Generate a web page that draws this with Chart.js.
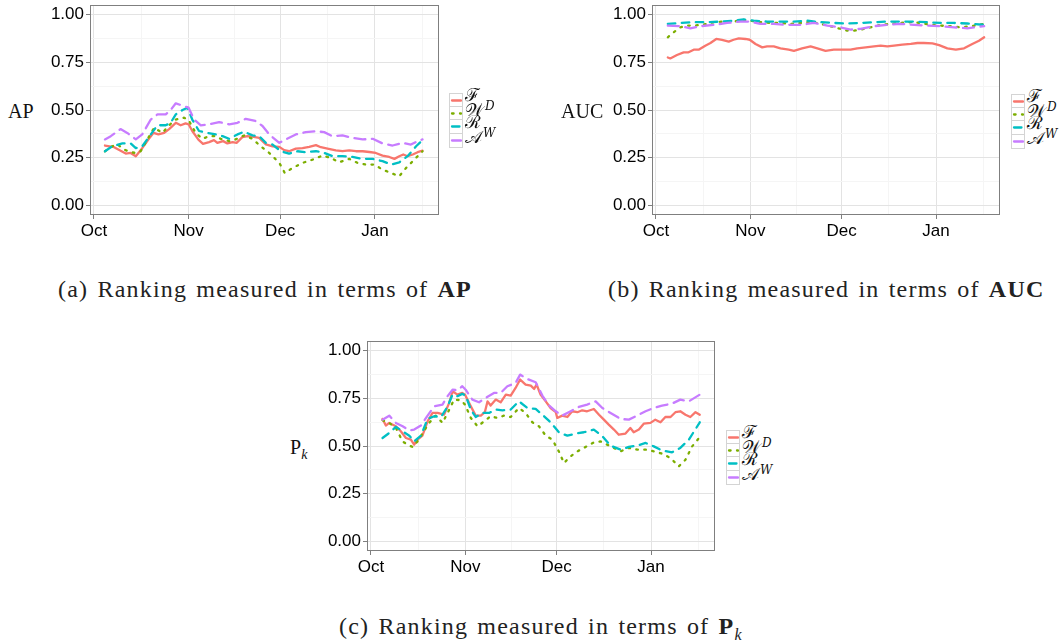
<!DOCTYPE html>
<html>
<head>
<meta charset="utf-8">
<script src="https://cdn.jsdelivr.net/npm/chart.js@4.4.1/dist/chart.umd.min.js"></script>
<style>
  body { margin: 0; background: #fff; width: 1062px; height: 644px; position: relative; overflow: hidden; }
  canvas.panel { position: absolute; }
  .ylab { position: absolute; font-family: "Liberation Serif", serif; font-size: 20px; color: #111; line-height: 1; }
  .caption { position: absolute; font-family: "Liberation Serif", serif; font-size: 24px; color: #222; white-space: nowrap; line-height: 1; letter-spacing: 1.2px; word-spacing: 2px; }
  .legend { position: absolute; }
  .legend .row { position: relative; height: 13.7px; }
  .legend .key { position: absolute; left: 0; top: 0; width: 12px; height: 12.7px; border: 1px solid #d4d4d4; border-top-width: 0; background: #fff; }
  .legend .row:first-child .key { border-top-width: 1px; height: 11.7px; }
  .legend .key svg { position: absolute; left: 0; top: 0; }
  .legend .lab { position: absolute; left: 16px; top: -7px; font-family: "DejaVu Serif", serif; font-size: 18px; color: #111; white-space: nowrap; line-height: 1; }
  .legend .lab sup { font-size: 12px; font-style: italic; vertical-align: 6px; margin-left: 1px; }
</style>
</head>
<body>
<canvas class="panel" id="chartAP" width="402" height="240" style="left:40px;top:0px"></canvas>
<canvas class="panel" id="chartAUC" width="401" height="240" style="left:602px;top:0px"></canvas>
<canvas class="panel" id="chartPk" width="401" height="240" style="left:317px;top:336px"></canvas>

<div class="ylab" style="left:8px;top:101px">AP</div>
<div class="ylab" style="left:561px;top:101px">AUC</div>
<div class="ylab" style="left:290px;top:437px">P<sub style="font-size:14px;font-style:italic">k</sub></div>

<div class="legend" id="legAP" style="left:449px;top:93px"></div>
<div class="legend" id="legAUC" style="left:1011px;top:94px"></div>
<div class="legend" id="legPk" style="left:726px;top:430px"></div>

<div class="caption" style="left:58px;top:277px">(a) Ranking measured in terms of <b>AP</b></div>
<div class="caption" style="left:608px;top:277px">(b) Ranking measured in terms of <b>AUC</b></div>
<div class="caption" style="left:339px;top:614px">(c) Ranking measured in terms of <b>P</b><sub style="font-size:16px;font-style:italic">k</sub></div>

<script>
// x values are days counted from 1 October
const monthTicks = [0, 31, 61, 92];
const monthLabels = ['Oct', 'Nov', 'Dec', 'Jan'];
const monthMinor = [15.5, 46, 76.5, 107.5];
const valueTicks = [0, 0.25, 0.5, 0.75, 1];
const valueMinor = [0.125, 0.375, 0.625, 0.875];

const seriesNames = ['ℱ', '𝒲', 'ℛ', '𝒜'];
const seriesSups = ['', 'D', '', 'W'];
const seriesColors = ['#F8766D', '#7CAE00', '#00BFC4', '#C77CFF'];
const seriesDash = [[], [1.6, 6.4], [7.5, 6.5], [11, 6.5]];

// (a) AP
const apF = [[3.6,.314],[6.6,.305],[10.4,.272],[12,.275],[13.7,.258],[15.8,.30],[17.8,.345],[19.5,.38],[21.1,.372],[23,.38],[24.6,.40],[26.8,.433],[28.4,.42],[30,.43],[31,.425],[32.2,.39],[34.2,.345],[35.7,.323],[37.7,.332],[39.3,.342],[40.4,.328],[42.3,.337],[43.7,.325],[45.4,.332],[46.7,.328],[48.6,.358],[50.3,.363],[51.9,.36],[54.1,.354],[56.3,.32],[58.5,.31],[60.7,.307],[62.3,.29],[63.9,.284],[66.1,.298],[68.3,.30],[70.5,.307],[72.7,.316],[74.3,.305],[76.5,.298],[79.2,.289],[81.4,.284],[83.6,.289],[85.8,.284],[88,.284],[90.2,.28],[92.3,.275],[94.5,.261],[96.7,.254],[98.4,.244],[100,.258],[101.3,.267],[102.7,.258],[104.4,.267],[106,.279],[107.6,.287]];
const apW = [[3.6,.284],[6,.31],[7.7,.32],[9.8,.293],[12,.279],[13.7,.275],[15.3,.284],[17.5,.346],[19.7,.407],[22.4,.38],[24.6,.42],[26.8,.45],[29.5,.46],[31,.447],[33.3,.38],[35.5,.349],[37.7,.363],[39.9,.363],[41.5,.349],[44.3,.337],[46.4,.346],[49.2,.367],[51.9,.349],[54.6,.31],[57.4,.275],[60.7,.223],[62.5,.17],[65,.196],[68.3,.223],[71.6,.24],[74.9,.261],[77.6,.249],[80.3,.226],[83.6,.244],[86.3,.223],[89.1,.214],[91.8,.214],[94.5,.188],[97.3,.17],[100,.153],[102.2,.196],[104.9,.24],[107.6,.284]];
const apR = [[3.6,.284],[6,.31],[9.3,.325],[12,.325],[13.7,.30],[15.8,.31],[18.6,.372],[20.8,.42],[23.5,.42],[25.1,.433],[26.8,.477],[29,.50],[30.6,.512],[32.2,.45],[34.4,.39],[37.2,.38],[39.9,.372],[42.1,.363],[44.3,.349],[47,.372],[49.2,.386],[51.9,.367],[54.1,.363],[56.3,.328],[58.5,.319],[61.2,.284],[63.9,.272],[66.7,.284],[69.4,.279],[72.7,.284],[74.9,.279],[78.1,.258],[81.4,.258],[84.7,.254],[88,.244],[91.3,.244],[94.5,.232],[97.3,.214],[100,.226],[102.7,.258],[105.5,.31],[107.6,.342]];
const apA = [[3.6,.346],[5.5,.363],[8.7,.40],[10.9,.38],[13.7,.346],[15.8,.372],[18.6,.45],[20.8,.477],[23.5,.477],[25.1,.50],[26.8,.535],[29.5,.52],[31,.512],[32.8,.45],[35,.42],[37.7,.425],[41,.437],[44.3,.425],[47,.433],[49.7,.454],[53,.442],[55.2,.416],[57.4,.372],[60.7,.328],[62.8,.346],[66.1,.372],[69.4,.384],[72.7,.389],[75.4,.384],[78.1,.363],[81.4,.367],[84.7,.354],[88,.346],[91.3,.349],[94.5,.325],[97.8,.314],[101.1,.328],[103.8,.319],[106,.337],[107.6,.346]];

// (b) AUC
const aucF = [[3.9,.775],[4.7,.77],[6.9,.788],[9.1,.802],[10.7,.802],[12.4,.816],[14,.816],[16.2,.837],[17.9,.851],[19.8,.872],[21.7,.867],[23.9,.858],[25.5,.868],[27.2,.875],[29.4,.872],[30.8,.868],[32.7,.846],[34.9,.828],[36.5,.833],[38.7,.833],[40.9,.823],[43.6,.816],[45.3,.81],[48,.823],[50.8,.833],[53,.823],[55.7,.81],[58.4,.816],[61.2,.816],[63.9,.816],[66.1,.823],[68.9,.828],[71.6,.833],[73.8,.837],[76,.833],[78.2,.837],[80.9,.842],[83.7,.846],[85.9,.851],[88,.851],[90.8,.849],[93,.84],[95.7,.823],[98.5,.816],[101.2,.823],[103.9,.846],[106.1,.863],[107.8,.881]];
const aucW = [[3.9,.881],[5.8,.907],[8,.933],[10.2,.942],[12.4,.942],[14.6,.946],[16.8,.951],[19,.96],[22.3,.963],[25.5,.963],[28.8,.972],[31,.968],[34.3,.96],[37.6,.956],[40.9,.956],[44.2,.951],[47.5,.956],[50.8,.963],[54.1,.951],[57.3,.939],[60.6,.925],[62.8,.916],[65,.916],[67.2,.921],[70.5,.933],[73.8,.946],[77.1,.951],[80.4,.956],[83.7,.96],[87,.956],[90.2,.946],[93.5,.942],[96.8,.939],[100.1,.933],[103.4,.939],[107.8,.951]];
const aucR = [[3.9,.951],[8,.956],[12.4,.96],[16.8,.96],[21.2,.963],[25.5,.968],[28.8,.974],[32.1,.968],[36.5,.963],[40.9,.963],[45.3,.963],[49.7,.968],[54.1,.96],[58.4,.956],[62.8,.953],[67.2,.956],[71.6,.96],[76,.963],[80.4,.963],[84.8,.963],[89.1,.96],[93.5,.956],[97.9,.956],[102.3,.953],[107.8,.946]];
const aucA = [[3.9,.942],[8,.939],[11.3,.928],[14.6,.939],[19,.946],[23.4,.956],[27.7,.963],[31,.963],[34.3,.951],[38.7,.951],[43.1,.946],[47.5,.946],[51.9,.956],[56.3,.942],[60.6,.933],[63.9,.921],[67.2,.925],[71.6,.939],[76,.946],[80.4,.951],[84.8,.946],[89.1,.942],[93.5,.939],[97.9,.933],[102.3,.928],[107.8,.939]];

// (c) P_k
const pkF = [[3.8,.642],[4.9,.607],[6,.621],[8.2,.603],[9.8,.577],[11.5,.542],[13.1,.533],[14.2,.507],[15.3,.533],[16.9,.554],[18.6,.629],[20.2,.673],[21.9,.673],[24,.664],[25.7,.726],[26.8,.787],[28.4,.769],[30,.778],[30.9,.769],[32.8,.708],[34.4,.659],[36.1,.659],[37.4,.677],[38.3,.734],[39.3,.712],[41,.743],[42.6,.729],[44.3,.769],[45.9,.764],[47.5,.804],[49,.848],[50.8,.822],[52.5,.816],[53.6,.799],[54.4,.822],[55.7,.769],[57.4,.734],[59,.699],[60.7,.677],[61.2,.647],[62.8,.659],[64.5,.652],[66.1,.682],[67.8,.677],[69.4,.687],[71,.682],[73.2,.694],[74.9,.664],[76.5,.638],[78.1,.612],[79.8,.586],[81.4,.559],[83.6,.565],[85.2,.594],[86.3,.572],[88,.586],[89.6,.617],[91.8,.621],[93.4,.638],[95.1,.624],[96.7,.652],[98.4,.652],[100,.677],[101.6,.682],[103.3,.664],[104.9,.652],[106.6,.677],[108,.664]];
const pkW = [[3.8,.635],[6,.621],[8.2,.594],[10.4,.524],[12,.507],[13.7,.495],[15.3,.524],[16.9,.565],[19.1,.621],[21.3,.659],[23.5,.621],[25.7,.69],[27.3,.743],[29.5,.74],[30.9,.717],[32.8,.647],[35,.603],[37.2,.629],[39.3,.656],[41.5,.647],[43.7,.659],[45.9,.652],[48.6,.699],[50.8,.673],[53,.624],[55.2,.603],[57.4,.554],[59.6,.533],[61.7,.472],[63.4,.411],[65.6,.446],[67.8,.472],[70.5,.495],[73.2,.519],[75.4,.524],[77.6,.507],[79.8,.49],[82,.472],[84.7,.49],[87.4,.481],[90.2,.481],[92.9,.472],[95.6,.46],[98.4,.437],[101.1,.393],[103.3,.428],[105.5,.498],[108,.547]];
const pkR = [[3.8,.542],[6,.568],[8.2,.60],[10.4,.577],[12.6,.554],[14.2,.524],[16.4,.554],[18.6,.642],[20.8,.656],[23,.652],[25.1,.705],[26.8,.769],[28.4,.761],[30,.773],[31.1,.764],[32.8,.691],[34.4,.652],[36.6,.673],[38.8,.673],[41,.691],[43.2,.687],[45.9,.691],[48.6,.734],[51.4,.699],[54.1,.694],[56.3,.664],[59,.624],[61.7,.572],[64.5,.554],[67.2,.565],[69.9,.572],[73.2,.586],[76,.551],[78.7,.502],[82,.481],[84.7,.495],[87.4,.502],[90.2,.516],[92.9,.498],[95.6,.477],[98.9,.467],[101.6,.49],[104.4,.533],[108,.624]];
const pkA = [[3.8,.638],[6,.659],[8.2,.621],[10.4,.603],[12.6,.582],[14.2,.586],[16.4,.607],[18.6,.659],[20.8,.708],[23.5,.717],[25.1,.76],[26.8,.795],[28.4,.792],[30,.813],[31.1,.795],[33.3,.743],[35.5,.729],[37.7,.752],[40.4,.778],[42.6,.778],[44.8,.813],[47.5,.83],[49,.874],[51.4,.851],[54.1,.834],[56.3,.764],[58.5,.712],[60.7,.682],[62.8,.659],[65.6,.682],[68.3,.705],[71,.717],[73.8,.734],[76,.699],[78.7,.673],[82,.642],[84.7,.638],[87.4,.659],[90.2,.682],[92.9,.699],[95.6,.712],[98.9,.722],[101.6,.743],[104.4,.734],[108,.769]];

const GRID_MAJOR = '#e3e3e3';
const GRID_MINOR = '#f5f5f5';
const FRAME = '#7f7f7f';

// ggplot-like panel frame
const panelFrame = {
    id: 'panelFrame',
    afterDraw(chart) {
        const a = chart.chartArea;
        const ctx = chart.ctx;
        ctx.save();
        ctx.strokeStyle = FRAME;
        ctx.lineWidth = 1;
        ctx.strokeRect(Math.round(a.left) + 0.5, Math.round(a.top) + 0.5,
            Math.round(a.right - a.left) - 1, Math.round(a.bottom - a.top) - 1);
        ctx.restore();
    }
};

function axisOptions(majors, minors, min, max, label, fit) {
    const isMajor = v => majors.some(m => Math.abs(m - v) < 1e-9);
    return {
        type: 'linear',
        min: min,
        max: max,
        afterBuildTicks: scale => {
            scale.ticks = majors.concat(minors).sort((a, b) => a - b).map(v => ({ value: v }));
        },
        afterFit: fit,
        border: { display: false },
        grid: {
            color: ctx => (ctx.tick && isMajor(ctx.tick.value)) ? GRID_MAJOR : GRID_MINOR,
            tickColor: ctx => (ctx.tick && isMajor(ctx.tick.value)) ? FRAME : 'rgba(0,0,0,0)',
            tickLength: 4,
            lineWidth: 1
        },
        ticks: {
            autoSkip: false,
            maxRotation: 0,
            padding: 2,
            color: '#000',
            font: { family: '"Liberation Sans", Arial, sans-serif', size: 17 },
            callback: v => isMajor(v) ? label(v) : ''
        }
    };
}

function makePanel(id, series) {
    const ctx = document.getElementById(id).getContext('2d');
    return new Chart(ctx, {
        type: 'line',
        data: {
            datasets: series.map((pts, i) => ({
                label: seriesNames[i] + seriesSups[i],
                data: pts.map(p => ({ x: p[0], y: p[1] })),
                borderColor: seriesColors[i],
                borderWidth: 2.3,
                borderDash: seriesDash[i],
                borderCapStyle: 'round',
                borderJoinStyle: 'round',
                pointRadius: 0,
                tension: 0,
                fill: false,
                order: series.length - i
            }))
        },
        options: {
            responsive: false,
            animation: false,
            layout: { padding: { top: 5, right: 3, left: 0, bottom: 0 } },
            plugins: { legend: { display: false }, tooltip: { enabled: false } },
            scales: {
                x: axisOptions(monthTicks, monthMinor, -1.3, 113,
                    v => monthLabels[monthTicks.indexOf(v)],
                    s => { s.height = 25; s.paddingLeft = 0; s.paddingRight = 0; }),
                y: axisOptions(valueTicks, valueMinor, -0.05, 1.05,
                    v => v.toFixed(2),
                    s => { s.width = 50; s.paddingTop = 0; s.paddingBottom = 0; })
            }
        },
        plugins: [panelFrame]
    });
}

// legend keys: small framed boxes with a stroke sample, label beside them
function buildLegend(id) {
    const box = document.getElementById(id);
    seriesNames.forEach((name, i) => {
        const row = document.createElement('div');
        row.className = 'row';
        const dash = seriesDash[i].length ? `stroke-dasharray="${seriesDash[i].join(' ')}"` : '';
        row.innerHTML =
            `<div class="key"><svg width="12" height="13"><line x1="2" y1="6.5" x2="11" y2="6.5" stroke="${seriesColors[i]}" stroke-width="2.3" stroke-linecap="round" ${dash}/></svg></div>` +
            `<div class="lab">${name}${seriesSups[i] ? '<sup>' + seriesSups[i] + '</sup>' : ''}</div>`;
        box.appendChild(row);
    });
}

makePanel('chartAP', [apF, apW, apR, apA]);
makePanel('chartAUC', [aucF, aucW, aucR, aucA]);
makePanel('chartPk', [pkF, pkW, pkR, pkA]);
buildLegend('legAP');
buildLegend('legAUC');
buildLegend('legPk');
</script>
</body>
</html>
